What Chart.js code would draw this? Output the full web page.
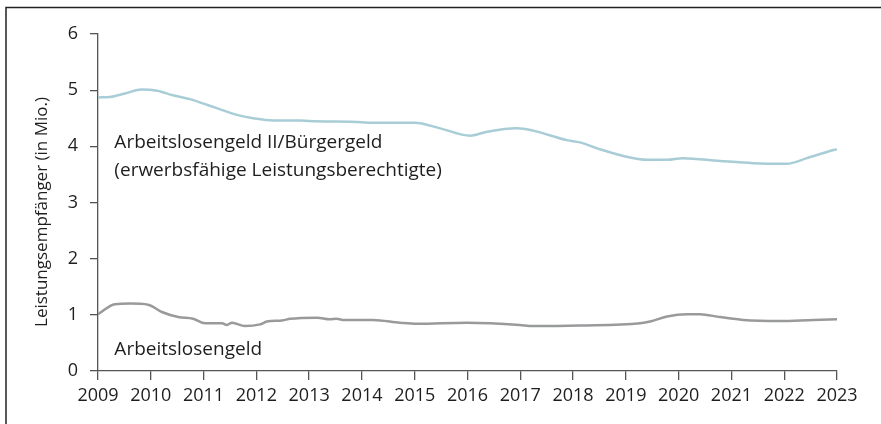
<!DOCTYPE html>
<html>
<head>
<meta charset="utf-8">
<script src="https://cdn.jsdelivr.net/npm/chart.js@4.4.1/dist/chart.umd.min.js"></script>
<style>
  html, body { margin: 0; padding: 0; background: #fff; }
  #wrap { width: 881px; height: 424px; position: relative; }
</style>
</head>
<body>
<div id="wrap"><canvas id="c" width="881" height="424"></canvas></div>
<script>
// Arbeitslosengeld II / Bürgergeld (erwerbsfähige Leistungsberechtigte), Mio.
const algIIYears = [2009.0, 2009.23, 2009.51, 2009.83, 2010.12, 2010.42, 2010.74, 2011.0, 2011.25, 2011.63, 2011.94, 2012.32, 2012.83, 2013.0, 2014.0, 2014.15, 2015.0, 2015.48, 2016.05, 2016.37, 2016.94, 2017.24, 2017.88, 2018.13, 2018.47, 2019.08, 2019.40, 2019.78, 2020.08, 2020.78, 2021.41, 2022.05, 2022.43, 2022.81, 2023.0];
const algIIValues = [4.87, 4.88, 4.94, 5.01, 4.99, 4.91, 4.84, 4.76, 4.68, 4.56, 4.50, 4.46, 4.46, 4.45, 4.43, 4.42, 4.42, 4.32, 4.19, 4.26, 4.32, 4.28, 4.11, 4.07, 3.96, 3.80, 3.76, 3.76, 3.79, 3.74, 3.70, 3.69, 3.79, 3.90, 3.95];

// Arbeitslosengeld, Mio.
const algYears = [2009.0, 2009.32, 2009.61, 2009.95, 2010.21, 2010.52, 2010.80, 2011.03, 2011.35, 2011.44, 2011.54, 2011.78, 2012.07, 2012.20, 2012.49, 2012.64, 2013.15, 2013.39, 2013.52, 2013.64, 2014.21, 2014.72, 2015.04, 2015.99, 2016.43, 2016.99, 2017.24, 2018.13, 2019.27, 2019.46, 2019.78, 2020.16, 2020.40, 2020.78, 2021.22, 2021.92, 2022.55, 2023.0];
const algValues = [1.01, 1.19, 1.20, 1.18, 1.05, 0.96, 0.93, 0.85, 0.85, 0.82, 0.86, 0.80, 0.83, 0.88, 0.90, 0.93, 0.95, 0.92, 0.93, 0.91, 0.91, 0.86, 0.84, 0.86, 0.85, 0.82, 0.80, 0.81, 0.85, 0.88, 0.97, 1.01, 1.01, 0.96, 0.91, 0.89, 0.91, 0.92];

const xTickLabels = ['2009','2010','2011','2012','2013','2014','2015','2016','2017','2018','2019','2020','2021','2022','2023'];
const yTickLabels = ['0','1','2','3','4','5','6'];
const yAxisTitle = 'Leistungsempfänger (in Mio.)';
const seriesLabels = [['Arbeitslosengeld II/Bürgergeld', '(erwerbsfähige Leistungsberechtigte)'], ['Arbeitslosengeld']];

const FONT = '"Open Sans", "DejaVu Sans", sans-serif';
const TEXT = '#1e1e1e';
const AXIS = '#555';

const toPoints = (xs, ys) => xs.map((x, i) => ({ x: x, y: ys[i] }));

const decor = {
  id: 'decor',
  afterDraw(chart) {
    const ctx = chart.ctx;
    const xs = chart.scales.x, ys = chart.scales.y;
    ctx.save();
    // frame
    ctx.strokeStyle = '#222';
    ctx.lineWidth = 1.5;
    ctx.beginPath();
    ctx.moveTo(6, 424);
    ctx.lineTo(6, 7.5);
    ctx.lineTo(881, 7.5);
    ctx.stroke();
    // axis title
    ctx.fillStyle = TEXT;
    ctx.font = '17px ' + FONT;
    ctx.textAlign = 'center';
    ctx.textBaseline = 'middle';
    ctx.translate(42, 212);
    ctx.rotate(-Math.PI / 2);
    ctx.fillText(yAxisTitle, 0, 0);
    ctx.restore();
    // series labels
    ctx.save();
    ctx.fillStyle = TEXT;
    ctx.font = '19px ' + FONT;
    ctx.textAlign = 'left';
    ctx.textBaseline = 'middle';
    const lx = xs.getPixelForValue(2009.31);
    ctx.fillText(seriesLabels[0][0], lx, ys.getPixelForValue(4.07));
    ctx.fillText(seriesLabels[0][1], lx, ys.getPixelForValue(3.57));
    ctx.fillText(seriesLabels[1][0], lx, ys.getPixelForValue(0.39));
    ctx.restore();
  }
};

new Chart(document.getElementById('c'), {
  type: 'line',
  data: {
    datasets: [
      {
        label: seriesLabels[0].join(' '),
        data: toPoints(algIIYears, algIIValues),
        borderColor: '#a9cdd6',
        borderWidth: 2.5,
        pointRadius: 0,
        cubicInterpolationMode: 'monotone',
        fill: false
      },
      {
        label: seriesLabels[1][0],
        data: toPoints(algYears, algValues),
        borderColor: '#999a9c',
        borderWidth: 2.5,
        pointRadius: 0,
        cubicInterpolationMode: 'monotone',
        fill: false
      }
    ]
  },
  options: {
    responsive: false,
    animation: false,
    devicePixelRatio: 1,
    layout: { padding: { left: 0, right: 44, top: 34, bottom: 0 } },
    plugins: { legend: { display: false }, tooltip: { enabled: false } },
    scales: {
      x: {
        type: 'linear',
        min: 2009, max: 2023,
        afterFit: s => { s.height = 53; },
        afterBuildTicks: s => { s.ticks = xTickLabels.map(v => ({ value: Number(v) })); },
        ticks: {
          callback: (v) => xTickLabels[xTickLabels.indexOf(String(v))] ?? '',
          color: TEXT,
          font: { family: FONT, size: 18 },
          padding: 5,
          maxRotation: 0,
          autoSkip: false
        },
        grid: { drawOnChartArea: false, drawTicks: true, tickLength: 9, color: AXIS, lineWidth: 1.3 },
        border: { display: true, color: AXIS, width: 1.3 }
      },
      y: {
        min: 0, max: 6,
        afterFit: s => { s.width = 98; },
        afterBuildTicks: s => { s.ticks = yTickLabels.map(v => ({ value: Number(v) })); },
        ticks: {
          callback: (v) => String(v),
          color: TEXT,
          font: { family: FONT, size: 18 },
          padding: 12
        },
        grid: { drawOnChartArea: false, drawTicks: true, tickLength: 8, color: AXIS, lineWidth: 1.3 },
        border: { display: true, color: AXIS, width: 1.3 }
      }
    }
  },
  plugins: [decor]
});
</script>
</body>
</html>
